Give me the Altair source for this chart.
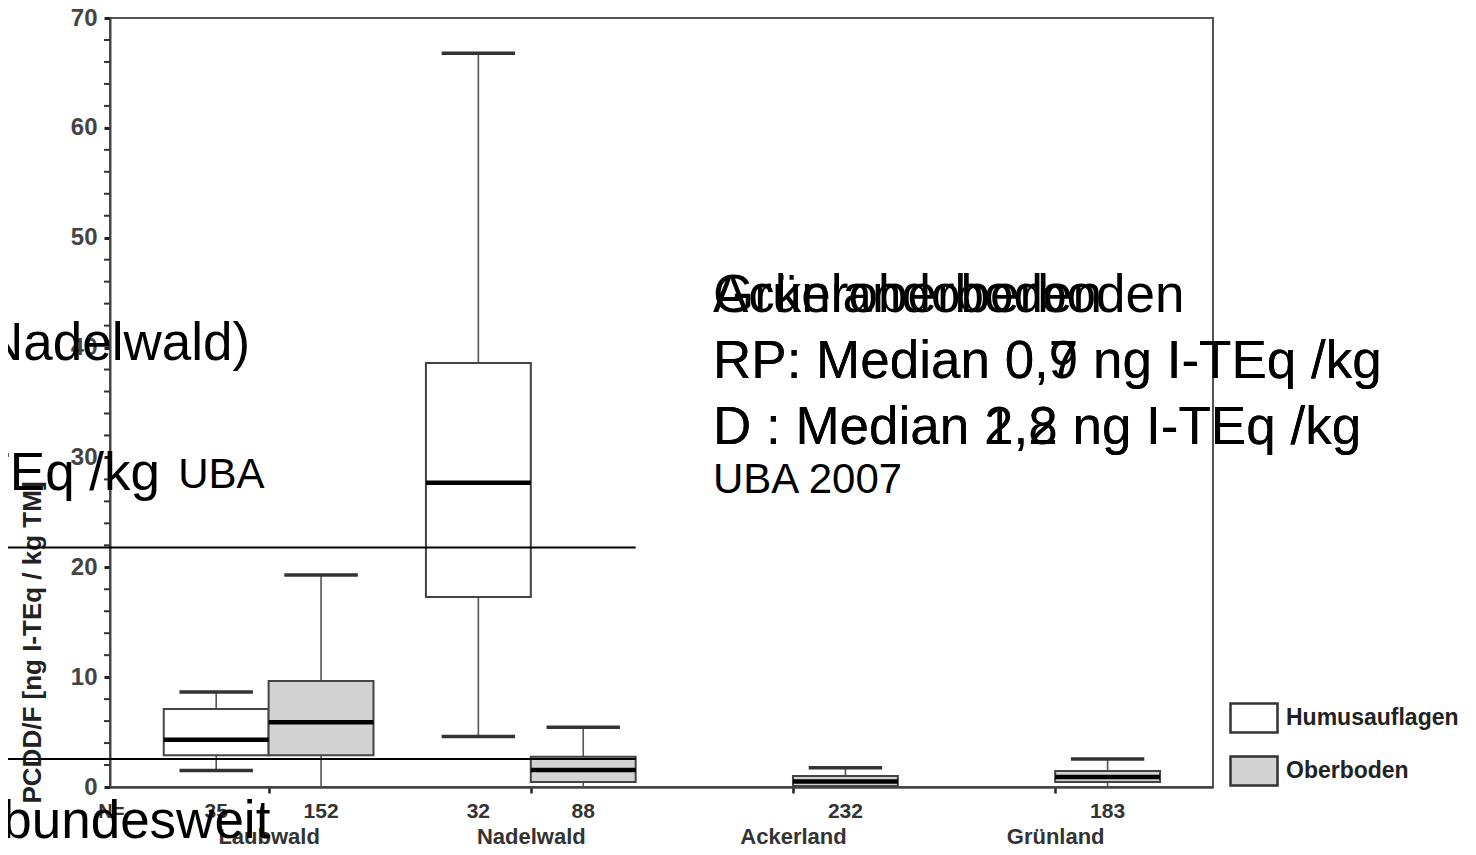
import altair as alt
import pandas as pd

# ---------------- data ----------------
categories = ["Laubwald", "Nadelwald", "Ackerland", "Grünland"]
box_category = ["Laubwald", "Laubwald", "Nadelwald", "Nadelwald", "Ackerland", "Grünland"]
box_layer = ["Humusauflagen", "Oberboden", "Humusauflagen", "Oberboden", "Oberboden", "Oberboden"]
box_n = [35, 152, 32, 88, 232, 183]
w_low = [1.5, 0.0, 4.6, 0.0, 0.0, 0.0]
q1 = [2.9, 2.9, 17.3, 0.45, 0.1, 0.45]
med = [4.3, 5.9, 27.7, 1.55, 0.5, 0.9]
q3 = [7.1, 9.65, 38.6, 2.75, 1.0, 1.45]
w_high = [8.65, 19.3, 66.8, 5.45, 1.75, 2.55]
ref_levels = [21.8, 2.55]
y_major_ticks = [0, 10, 20, 30, 40, 50, 60, 70]
y_minor_ticks = [2, 4, 6, 8, 12, 14, 16, 18, 22, 24, 26, 28, 32, 34, 36, 38,
                 42, 44, 46, 48, 52, 54, 56, 58, 62, 64, 66, 68]
layers = ["Humusauflagen", "Oberboden"]
layer_fill = ["white", "#d3d3d3"]

# ---------------- layout helpers ----------------
BOX_W = 0.4
CAP_HALF = 0.14
rows = []
for c, l, n, a, b, m, d, e in zip(box_category, box_layer, box_n, w_low, q1, med, q3, w_high):
    i = categories.index(c)
    x0, x1 = (i - BOX_W, i) if l == "Humusauflagen" else (i, i + BOX_W)
    ctr = (x0 + x1) / 2
    rows.append(dict(cat=c, layer=l, n=str(n), lo=a, q1=b, med=m, q3=d, hi=e,
                     x0=x0, x1=x1, xc=ctr, cl=ctr - CAP_HALF, cr=ctr + CAP_HALF))
df = pd.DataFrame(rows)
ref_df = pd.DataFrame({"level": ref_levels})
minor_df = pd.DataFrame({"v": y_minor_ticks})

SANS = "Liberation Sans, Arial, sans-serif"
GRAY = "#444"

xs = alt.Scale(domain=[-0.605, 3.602], nice=False, zero=False)
ys = alt.Scale(domain=[0, 70], nice=False, zero=True)

label_js = "[" + ",".join("'" + c + "'" for c in categories) + "]"
xaxis = alt.Axis(values=[0, 1, 2, 3], labelExpr=label_js + "[datum.value]", title=None,
                 grid=False, tickSize=6, tickWidth=2.5, tickColor="#222",
                 domainColor=GRAY, domainWidth=2.5, labelFont=SANS, labelFontWeight="bold",
                 labelFontSize=22, labelColor="#333", labelPadding=33, labelOverlap=False)
yaxis = alt.Axis(values=y_major_ticks, labelOverlap=False,
                 title="PCDD/F  [ng I-TEq / kg    TM]", titleFont=SANS, titleFontWeight="bold",
                 titleFontSize=26, titleColor="#222", titleAngle=270, titleAlign="left",
                 titleBaseline="alphabetic", titleX=-70, titleY=785,
                 grid=False, tickSize=6, tickWidth=3, tickColor="#222",
                 domainColor=GRAY, domainWidth=2, labelFont=SANS, labelFontWeight="bold",
                 labelFontSize=24, labelColor="#444", labelPadding=7)

X = lambda f: alt.X(f, type="quantitative", scale=xs, axis=xaxis)
Y = lambda f: alt.Y(f, type="quantitative", scale=ys, axis=yaxis)

base = alt.Chart(df)

minor = alt.Chart(minor_df).mark_rule(color="#333", strokeWidth=2).encode(
    x=alt.value(-6), x2=alt.value(0), y=Y("v"))

whisk_lo = base.mark_rule(color="#555", strokeWidth=1.6).encode(x=X("xc"), y=Y("lo"), y2="q1")
whisk_hi = base.mark_rule(color="#555", strokeWidth=1.6).encode(x=X("xc"), y=Y("q3"), y2="hi")
cap_hi = base.mark_rule(color="#333", strokeWidth=3.5).encode(x=X("cl"), x2="cr", y=Y("hi"))
cap_lo = base.transform_filter("datum.lo > 0").mark_rule(color="#333", strokeWidth=3.5).encode(
    x=X("cl"), x2="cr", y=Y("lo"))

boxes = base.mark_rect(stroke="#444", strokeWidth=2).encode(
    x=X("x0"), x2="x1", y=Y("q1"), y2="q3",
    fill=alt.Fill("layer:N", scale=alt.Scale(domain=layers, range=layer_fill),
                  legend=alt.Legend(title=None, orient="none", legendX=1119, legendY=675,
                                    symbolType="M-1,-0.617L1,-0.617L1,0.617L-1,0.617Z",
                                    symbolSize=2209, symbolStrokeColor="#333",
                                    symbolStrokeWidth=2.5, symbolOpacity=1,
                                    labelFont=SANS, labelFontWeight="bold", labelFontSize=23,
                                    labelColor="#222", labelOffset=7, labelLimit=400,
                                    rowPadding=8, padding=0)),
)
medians = base.mark_rule(color="black", strokeWidth=4.5).encode(x=X("x0"), x2="x1", y=Y("med"))

counts = base.mark_text(font=SANS, fontWeight="bold", fontSize=21, color="#333",
                        baseline="middle", dy=25).encode(x=X("xc"), y=alt.datum(0), text="n:N")
nlabel = alt.Chart(pd.DataFrame({"t": ["N="]})).mark_text(
    font=SANS, fontWeight="bold", fontSize=20, color="#333", baseline="middle", dy=25
).encode(x=alt.datum(-0.6), y=alt.datum(0), text="t:N")

refs = alt.Chart(ref_df).mark_rule(color="black", strokeWidth=2).encode(
    x=alt.datum(-1.06), x2=alt.datum(1.40), y=Y("level"))


def note(txt, x, y, size, align="left"):
    return alt.Chart(pd.DataFrame({"t": [txt]})).mark_text(
        font=SANS, fontSize=size, color="black", align=align, baseline="alphabetic"
    ).encode(x=alt.datum(x), y=alt.datum(y), text="t:N")


notes = [
    note("Ackeroberboden", 1.695, 43.22, 53),
    note("Grünlandoberboden", 1.695, 43.22, 53),
    note("RP: Median 0,7 ng I-TEq /kg", 1.695, 37.22, 53),
    note("RP: Median 0,9 ng I-TEq /kg", 1.695, 37.22, 53),
    note("D  : Median 1,2 ng I-TEq /kg", 1.695, 31.21, 53),
    note("D  : Median 2,8 ng I-TEq /kg", 1.695, 31.21, 53),
    note("UBA 2007", 1.695, 26.75, 42),
    note("(Nadelwald)", -0.0706, 38.85, 53, "right"),
    note("ng I-TEq /kg", -0.414, 27.02, 53, "right"),
    note("UBA", -0.345, 27.2, 42),
    note("bundesweit", -1.016, -4.64, 53),
]

chart = alt.layer(
    minor, whisk_lo, whisk_hi, cap_lo, cap_hi, boxes, medians, refs, counts, nlabel, *notes
).properties(
    width=1103, height=769,
    autosize=alt.AutoSizeParams(type="none"),
    padding={"left": 102, "top": 10, "right": 255, "bottom": 60},
).configure_view(stroke="#555", strokeWidth=2)

chart.save("out.html", embed_options={"renderer": "svg", "actions": False})
